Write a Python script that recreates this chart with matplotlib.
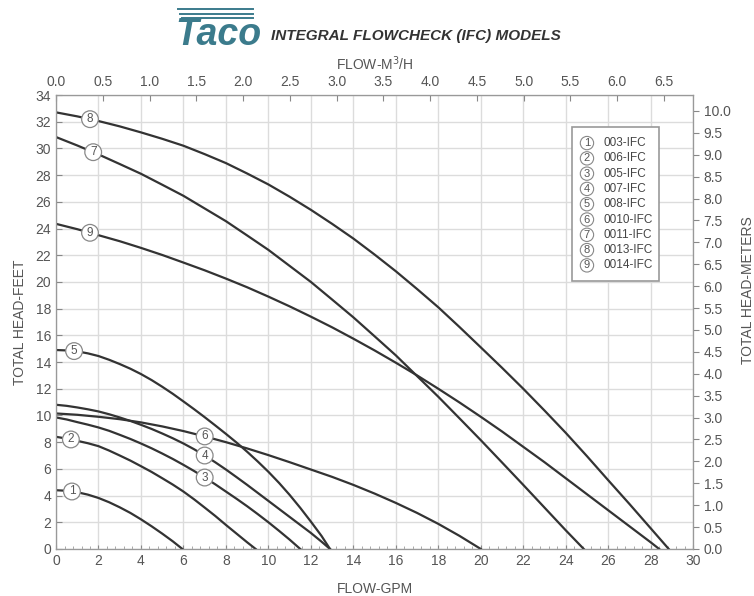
import numpy as np
import matplotlib.pyplot as plt
from matplotlib.patches import Rectangle
from matplotlib.ticker import MultipleLocator

plt.rcParams['font.family'] = ['Liberation Sans', 'DejaVu Sans']

# pump curves: flow in GPM, head in feet
models = ['003-IFC', '006-IFC', '005-IFC', '007-IFC', '008-IFC',
          '0010-IFC', '0011-IFC', '0013-IFC', '0014-IFC']

gpm1 = [0, 0.5, 1, 1.5, 2, 2.5, 3, 3.5, 4, 4.5, 5, 5.5, 5.95]
ft1 = [4.4, 4.36, 4.25, 4.07, 3.82, 3.5, 3.12, 2.7, 2.22, 1.7, 1.15, 0.57, 0]

gpm2 = [0, 0.5, 1, 1.5, 2, 2.5, 3, 3.5, 4, 4.5, 5, 5.5, 6, 6.5, 7, 7.5, 8, 8.5, 9, 9.4]
ft2 = [8.4, 8.27, 8.1, 7.92, 7.7, 7.37, 7.0, 6.62, 6.2, 5.77, 5.3, 4.82, 4.3, 3.72,
       3.1, 2.47, 1.8, 1.15, 0.5, 0]

gpm3 = [0, 0.5, 1, 1.5, 2, 2.5, 3, 3.5, 4, 4.5, 5, 5.5, 6, 6.5, 7, 7.5, 8, 8.5, 9,
        9.5, 10, 10.5, 11, 11.5]
ft3 = [9.85, 9.7, 9.5, 9.31, 9.1, 8.85, 8.55, 8.24, 7.9, 7.54, 7.15, 6.74, 6.3, 5.84,
       5.35, 4.84, 4.3, 3.76, 3.2, 2.61, 2.0, 1.36, 0.7, 0]

gpm4 = [0, 0.5, 1, 1.5, 2, 2.5, 3, 3.5, 4, 4.5, 5, 5.5, 6, 6.5, 7, 7.5, 8, 8.5, 9,
        9.5, 10, 10.5, 11, 11.5, 12, 12.5, 12.9]
ft4 = [10.8, 10.72, 10.6, 10.46, 10.3, 10.09, 9.85, 9.59, 9.3, 8.99, 8.65, 8.29, 7.9,
       7.47, 7.0, 6.49, 5.95, 5.38, 4.8, 4.2, 3.6, 3.0, 2.4, 1.8, 1.2, 0.55, 0]

gpm5 = [0, 0.5, 1, 1.5, 2, 2.5, 3, 3.5, 4, 4.5, 5, 5.5, 6, 6.5, 7, 7.5, 8, 8.5, 9,
        9.5, 10, 10.5, 11, 11.5, 12, 12.5, 12.9]
ft5 = [14.9, 14.87, 14.8, 14.65, 14.45, 14.17, 13.85, 13.5, 13.1, 12.65, 12.15, 11.62,
       11.05, 10.47, 9.87, 9.25, 8.62, 7.97, 7.28, 6.55, 5.78, 4.95, 4.05, 3.08, 2.05,
       0.98, 0]

gpm6 = [0, 1, 2, 3, 4, 5, 6, 7, 8, 9, 10, 11, 12, 13, 14, 15, 16, 17, 18, 19, 20]
ft6 = [10.15, 10.05, 9.9, 9.72, 9.48, 9.18, 8.83, 8.43, 8.0, 7.53, 7.03, 6.5, 5.95,
       5.4, 4.8, 4.15, 3.45, 2.7, 1.88, 0.98, 0]

gpm7 = [0, 1, 2, 3, 4, 5, 6, 7, 8, 9, 10, 11, 12, 13, 14, 15, 16, 17, 18, 19, 20,
        21, 22, 23, 24, 24.85]
ft7 = [30.85, 30.22, 29.55, 28.83, 28.1, 27.28, 26.45, 25.5, 24.55, 23.48, 22.4, 21.2,
       20.0, 18.68, 17.35, 15.93, 14.5, 12.95, 11.4, 9.78, 8.15, 6.48, 4.8, 3.1, 1.4, 0]

gpm8 = [0, 1, 2, 3, 4, 5, 6, 7, 8, 9, 10, 11, 12, 13, 14, 15, 16, 17, 18, 19, 20,
        21, 22, 23, 24, 25, 26, 27, 28, 28.85]
ft8 = [32.7, 32.4, 32.05, 31.65, 31.2, 30.72, 30.2, 29.57, 28.9, 28.12, 27.3, 26.38,
       25.4, 24.35, 23.25, 22.05, 20.8, 19.47, 18.1, 16.62, 15.1, 13.57, 12.0, 10.37,
       8.7, 6.95, 5.15, 3.37, 1.55, 0]

gpm9 = [0, 1, 2, 3, 4, 5, 6, 7, 8, 9, 10, 11, 12, 13, 14, 15, 16, 17, 18, 19, 20,
        21, 22, 23, 24, 25, 26, 27, 28, 28.4]
ft9 = [24.35, 23.95, 23.5, 23.05, 22.55, 22.02, 21.45, 20.87, 20.25, 19.6, 18.9, 18.17,
       17.4, 16.6, 15.75, 14.87, 13.95, 13.0, 12.0, 10.97, 9.9, 8.8, 7.65, 6.5, 5.3,
       4.1, 2.9, 1.7, 0.5, 0]

curves = [(gpm1, ft1), (gpm2, ft2), (gpm3, ft3), (gpm4, ft4), (gpm5, ft5),
          (gpm6, ft6), (gpm7, ft7), (gpm8, ft8), (gpm9, ft9)]

# where the circled number sits along each curve (GPM)
label_at = [0.75, 0.7, 7.0, 7.0, 0.85, 7.0, 1.75, 1.6, 1.6]

GPM_TO_M3H = 0.22712
FT_TO_M = 0.3048

txt = '#555555'
fig = plt.figure(figsize=(7.54, 5.96), dpi=100)
ax = fig.add_axes([0.0743, 0.0789, 0.845, 0.7617])

for i, (x, y) in enumerate(curves):
    ax.plot(x, y, color='#333333', lw=1.6, zorder=3)
    lx = label_at[i]
    ly = np.interp(lx, x, y)
    ax.text(lx, ly, str(i + 1), ha='center', va='center', fontsize=8.5, color='#555555', zorder=5,
            bbox=dict(boxstyle='circle,pad=0.2', fc='white', ec='#888888', lw=0.9))

ax.set_xlim(0, 30)
ax.set_ylim(0, 34)
ax.xaxis.set_major_locator(MultipleLocator(2))
ax.xaxis.set_minor_locator(MultipleLocator(0.4))
ax.yaxis.set_major_locator(MultipleLocator(2))
ax.grid(True, which='major', color='#dcdcdc', lw=1.0, zorder=0)
ax.tick_params(axis='both', which='major', labelsize=10, colors='#888888', labelcolor=txt, length=4)
ax.tick_params(axis='x', which='major', direction='in', length=3)
ax.tick_params(axis='x', which='minor', direction='in', length=2, color='#999999')
ax.tick_params(axis='y', direction='in', length=4)
for s in ax.spines.values():
    s.set_color('#999999')
ax.set_xlabel('FLOW-GPM', fontsize=10, color=txt, labelpad=10)
ax.set_ylabel('TOTAL HEAD-FEET', fontsize=10, color=txt, labelpad=6)

# top axis in m3/h
top = ax.twiny()
top.set_xlim(0, 30 * GPM_TO_M3H)
top.set_xticks(np.arange(0, 6.51, 0.5))
top.xaxis.set_major_formatter(plt.FormatStrFormatter('%.1f'))
top.tick_params(axis='x', direction='in', length=4, labelsize=10, colors='#888888', labelcolor=txt, pad=4)
top.set_xlabel('FLOW-M$^3$/H', fontsize=10, color=txt, labelpad=4)

# right axis in meters
right = ax.twinx()
right.set_ylim(0, 34 * FT_TO_M)
right.set_yticks(np.arange(0, 10.01, 0.5))
right.yaxis.set_major_formatter(plt.FormatStrFormatter('%.1f'))
right.tick_params(axis='y', direction='out', length=4, labelsize=10, colors='#888888', labelcolor=txt)
right.set_ylabel('TOTAL HEAD-METERS', fontsize=10, color=txt)
right.yaxis.set_label_coords(1.075, 0.57)
for a in (top, right):
    for s in a.spines.values():
        s.set_color('#999999')

# legend box of circled numbers
lg_left, lg_right = 24.3, 28.4
ax.add_patch(Rectangle((lg_left, 20.1), lg_right - lg_left, 11.5, fc='white', ec='#999999', lw=1.2, zorder=4))
for i, name in enumerate(models):
    yy = 30.4 - i * 1.145
    ax.text(25.0, yy, str(i + 1), ha='center', va='center', fontsize=8, color='#555555', zorder=5,
            bbox=dict(boxstyle='circle,pad=0.15', fc='white', ec='#888888', lw=0.8))
    ax.text(25.8, yy, name, ha='left', va='center', fontsize=8.5, color='#444444', zorder=5)

# header: logo and title
teal = '#3b7b8c'
fig.text(0.232, 0.925, 'Taco', fontsize=27, fontweight='bold', style='italic', color=teal, va='baseline')
for k in range(3):
    yk = 0.985 - k * 0.008
    fig.add_artist(plt.Line2D([0.236 + k * 0.003, 0.335], [yk, yk], color=teal, lw=1.4))
fig.text(0.36, 0.94, 'INTEGRAL FLOWCHECK (IFC) MODELS', fontsize=11, fontweight='bold',
         style='italic', color='#333333', va='center')

plt.savefig('out.png', dpi=100)
